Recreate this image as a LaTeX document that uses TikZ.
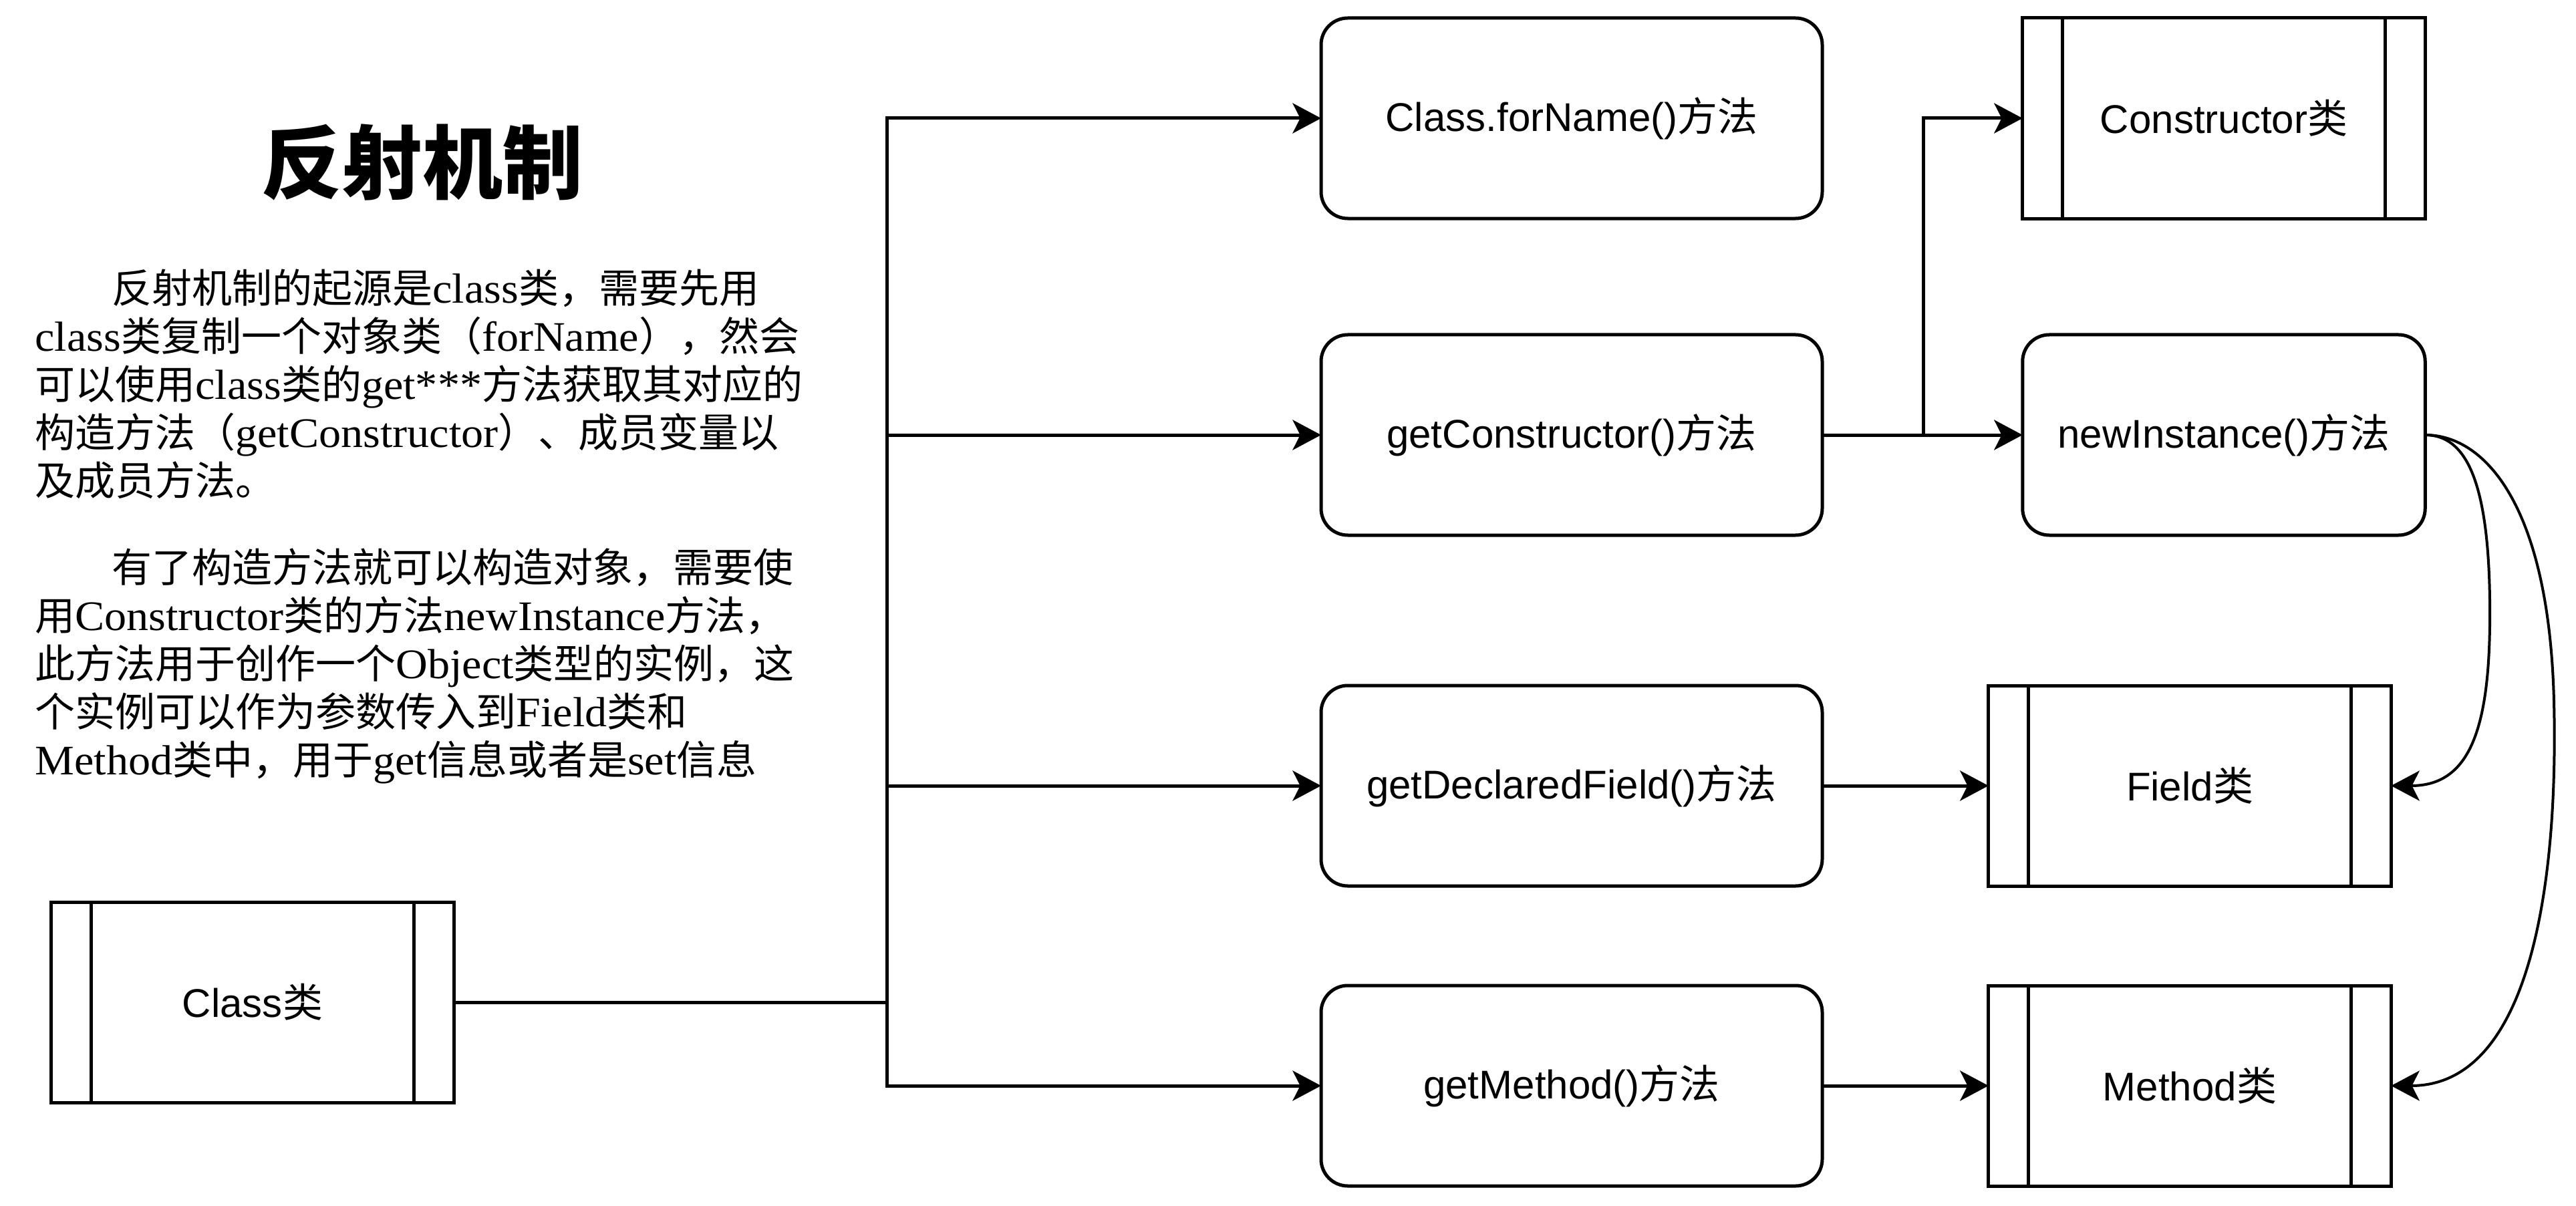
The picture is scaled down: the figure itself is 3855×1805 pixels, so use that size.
\documentclass[tikz,border=0pt]{standalone}
\usepackage{fontspec}
\setmainfont{Liberation Serif}[Scale=1.05,FakeStretch=1.05]
\setsansfont{Liberation Sans}
\newfontfamily\cjk{Noto Sans CJK SC}
\usetikzlibrary{arrows.meta}
\newcommand\Z[1]{{\cjk #1}}
\begin{document}
\begin{tikzpicture}[x=0.4pt,y=-0.4pt,
  proc/.style={draw, line width=2pt, rounded corners=16pt, minimum width=300pt, minimum height=120pt, inner sep=0pt, outer sep=0pt, font=\sffamily\fontsize{24}{28.8}\selectfont},
  clsbox/.style={draw, line width=2pt, minimum width=241pt, minimum height=120pt, inner sep=0pt, outer sep=0pt, font=\sffamily\fontsize{24}{28.8}\selectfont},
  para/.style={anchor=base west, inner sep=0pt, font=\rmfamily\fontsize{24}{28.8}\selectfont},
  conn/.style={line width=2pt},
  tip/.style={-{Stealth[length=17pt,width=18pt,inset=4.5pt]}},
  arr/.style={conn, tip},
  curv/.style={line width=1.6pt, tip}]
\useasboundingbox (0,0) rectangle (3855,1805);

% title and text
\node[font=\cjk\bfseries\fontsize{48}{57.6}\selectfont, inner sep=0pt] (title) at (632,243) {反射机制};
\node[para] (p1) at (167,453) {\Z{反射机制的起源是}class\Z{类，需要先用}};
\node[para] (p2) at (52,525) {class\Z{类复制一个对象类（}forName\Z{），然会}};
\node[para] (p3) at (52,597) {\Z{可以使用}class\Z{类的}get***\Z{方法获取其对应的}};
\node[para] (p4) at (52,669) {\Z{构造方法（}getConstructor\Z{）、成员变量以}};
\node[para] (p5) at (52,741) {\Z{及成员方法。}};
\node[para] (p6) at (167,871) {\Z{有了构造方法就可以构造对象，需要使}};
\node[para] (p7) at (52,943) {\Z{用}Constructor\Z{类的方法}newInstance\Z{方法，}};
\node[para] (p8) at (52,1015) {\Z{此方法用于创作一个}Object\Z{类型的实例，这}};
\node[para] (p9) at (52,1087) {\Z{个实例可以作为参数传入到}Field\Z{类和}};
\node[para] (p10) at (52,1159) {Method\Z{类中，用于}get\Z{信息或者是}set\Z{信息}};

% nodes
\node[clsbox] (cls) at (378,1500) {Class\Z{类}};
\node[proc] (fn) at (2352,177) {Class.forName()\Z{方法}};
\node[proc] (gc) at (2352,651) {getConstructor()\Z{方法}};
\node[proc] (gdf) at (2352,1176) {getDeclaredField()\Z{方法}};
\node[proc] (gm) at (2352,1625) {getMethod()\Z{方法}};
\node[clsbox] (con) at (3328,177) {Constructor\Z{类}};
\node[proc, minimum width=241pt] (ni) at (3328,651) {newInstance()\Z{方法}};
\node[clsbox] (fld) at (3277,1176) {Field\Z{类}};
\node[clsbox] (mth) at (3277,1625) {Method\Z{类}};

\foreach \n in {cls,con,fld,mth}{
  \draw[line width=2pt] ([xshift=24pt]\n.north west) -- ([xshift=24pt]\n.south west)
        ([xshift=-24pt]\n.north east) -- ([xshift=-24pt]\n.south east);
}

% connectors
\coordinate (trunk) at (1327,0);
\coordinate (elb) at (2878,0);
\coordinate (bendA) at (3726,900);
\coordinate (bendB) at (3822,1050);
\draw[conn] (cls.east) -- (trunk |- cls.east);
\foreach \t in {fn,gc,gdf,gm}{
  \draw[arr] (trunk |- cls.east) |- (\t.west);
}
\draw[arr] (gc.east) -- (ni.west);
\draw[arr] (gc.east) -- (elb |- gc.east) |- (con.west);
\draw[arr] (gdf.east) -- (fld.west);
\draw[arr] (gm.east) -- (mth.west);
\draw[curv] (ni.east) .. controls +(61,0) and +(-2,-180) .. (bendA)
  .. controls +(2,180) and +(123,0) .. (fld.east);
\draw[curv] (ni.east) .. controls +(91,0) and +(-7,-290) .. (bendB)
  .. controls +(7,290) and +(203,0) .. (mth.east);
\end{tikzpicture}
\end{document}
